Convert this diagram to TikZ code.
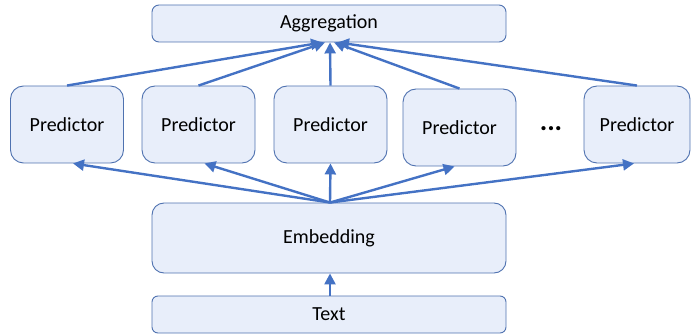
\documentclass[tikz,border=0pt]{standalone}
\usepackage{fontspec}
\setmainfont{Carlito}
\usetikzlibrary{arrows.meta}
\definecolor{boxfill}{HTML}{E8EEFA}
\definecolor{boxline}{HTML}{4F72B0}
\definecolor{arrowblue}{HTML}{4472C4}

\begin{document}
\begin{tikzpicture}
  [x=1pt, y=-1pt,
    every node/.style={font=\fontsize{20}{24}\selectfont, inner sep=0pt},
    box/.style={draw=boxline, fill=boxfill, line width=0.9pt, rounded corners=#1},
    box/.default=13pt,
    wide/.style={box=7pt, minimum width=354pt, minimum height=37pt},
    pred/.style={box, minimum width=113pt, minimum height=77pt},
    link/.style={draw=arrowblue, line width=2.4pt, -{Triangle[length=11pt, width=11pt]}},
]
  \useasboundingbox (0,0) rectangle (691,334);

  \node[wide] (agg) at (329,23.5) {Aggregation};

  \node[pred] (p1) at (67,124.5) {Predictor};
  \node[pred] (p2) at (198.5,124.5) {Predictor};
  \node[pred] (p3) at (330.5,124.5) {Predictor};
  \node[pred] (p4) at (459.5,127.5) {Predictor};
  \node[font=\fontsize{28}{30}\selectfont\bfseries] (dots) at (551,129) {...};
  \node[pred, minimum width=106pt] (p5) at (637,124.5) {Predictor};

  \node[wide, box=12pt, minimum height=70pt] (emb) at (329,238) {Embedding};
  \node[wide, box=6pt] (txt) at (329,314.5) {Text};

  % predictors to aggregation
  \draw[link] (p1.north) -- ([xshift=-7pt]agg.south);
  \draw[link] (p2.north) -- ([xshift=-4pt]agg.south);
  \draw[link] (p3.north) -- ([xshift=1pt]agg.south);
  \draw[link] (p4.north) -- ([xshift=5pt]agg.south);
  \draw[link] (p5.north) -- ([xshift=9pt]agg.south);

  % embedding to predictors
  \draw[link] ([xshift=1pt]emb.north) -- ([xshift=6pt]p1.south);
  \draw[link] ([xshift=1pt]emb.north) -- ([xshift=6pt]p2.south);
  \draw[link] ([xshift=1pt]emb.north) -- (p3.south);
  \draw[link] ([xshift=1pt]emb.north) -- ([xshift=-5pt]p4.south);
  \draw[link] ([xshift=1pt]emb.north) -- ([xshift=-3pt]p5.south);

  \draw[link] ([xshift=1pt]txt.north) -- ([xshift=1pt]emb.south);
\end{tikzpicture}
\end{document}
